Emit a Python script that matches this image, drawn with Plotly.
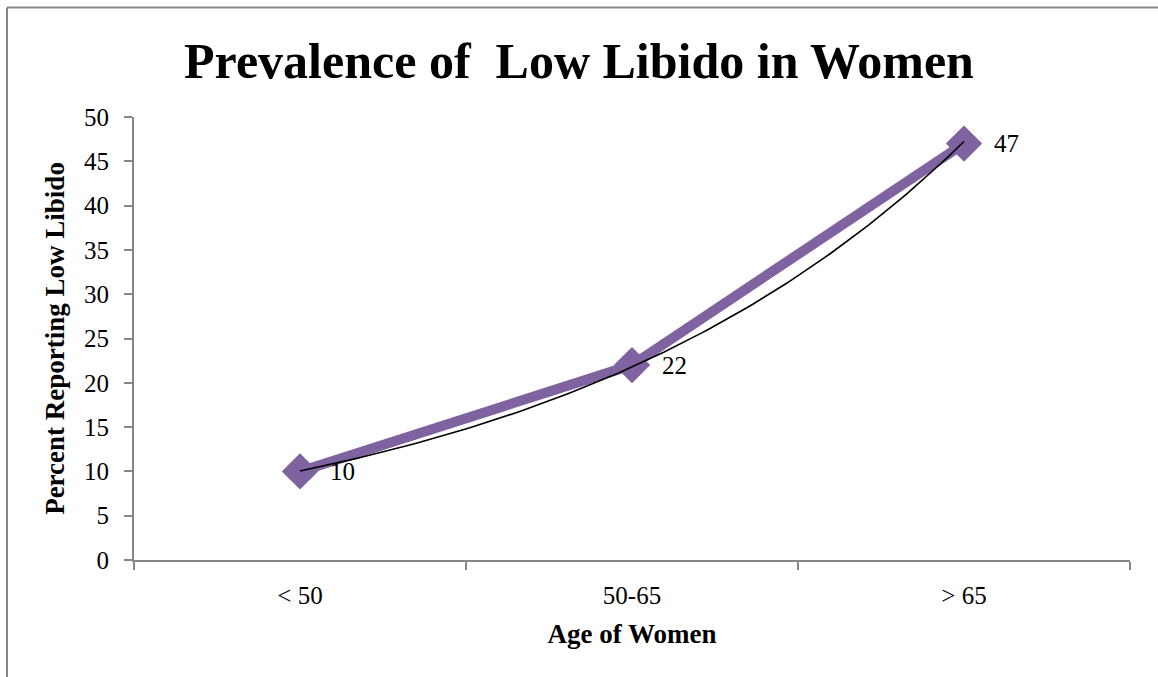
import numpy as np
import plotly.graph_objects as go

# Survey results
age_groups = ["< 50", "50-65", "> 65"]
pct_low_libido = [10, 22, 47]

title_text = "Prevalence of  Low Libido in Women"
x_title = "Age of Women"
y_title = "Percent Reporting Low Libido"

FONT = "Liberation Serif"
PURPLE = "#7f63a1"
AXIS_GRAY = "#878787"

x_pos = np.arange(len(age_groups))

# Exponential trendline (least squares on ln y, 1-based index like a spreadsheet)
idx = x_pos + 1
b, ln_a = np.polyfit(idx, np.log(pct_low_libido), 1)
fit_x = np.linspace(idx[0], idx[-1], 120)
fit_y = np.exp(ln_a + b * fit_x)

fig = go.Figure()

fig.add_trace(go.Scatter(
    x=x_pos, y=pct_low_libido, mode="lines+markers",
    line=dict(color=PURPLE, width=10),
    marker=dict(symbol="diamond", size=28, color=PURPLE),
    hoverinfo="skip", showlegend=False,
))

fig.add_trace(go.Scatter(
    x=fit_x - 1, y=fit_y, mode="lines",
    line=dict(color="black", width=1.6),
    hoverinfo="skip", showlegend=False,
))

# Value labels to the right of each point
for xv, yv in zip(x_pos, pct_low_libido):
    fig.add_annotation(
        x=xv, y=yv, text=str(yv), showarrow=False,
        xanchor="left", yanchor="middle", xshift=28,
        font=dict(family=FONT, size=25, color="black"),
    )

# Chart-area frame (top and left edges)
fig.add_shape(type="line", xref="paper", yref="paper",
              x0=-0.1275, x1=1.2, y0=1.2472, y1=1.2472,
              line=dict(color=AXIS_GRAY, width=2))
fig.add_shape(type="line", xref="paper", yref="paper",
              x0=-0.1275, x1=-0.1275, y0=-0.4, y1=1.2472,
              line=dict(color=AXIS_GRAY, width=2))

fig.update_layout(
    width=1158, height=677,
    margin=dict(l=134, r=28, t=117, b=117),
    paper_bgcolor="white", plot_bgcolor="white",
    font=dict(family=FONT, color="black"),
    title=dict(text=f"<b>{title_text}</b>", x=0.5, xref="container",
               xanchor="center", y=0.911, yanchor="middle",
               font=dict(family=FONT, size=50, color="black")),
    showlegend=False,
)

fig.update_xaxes(
    range=[-0.5, 2.5], tickmode="array", tickvals=list(x_pos), ticktext=age_groups,
    ticks="", showgrid=False, zeroline=False, ticklabelstandoff=12,
    showline=True, linecolor=AXIS_GRAY, linewidth=2,
    tickfont=dict(family=FONT, size=25, color="black"),
    minor=dict(tick0=-0.5, dtick=1, ticks="outside", ticklen=8,
               tickcolor=AXIS_GRAY, tickwidth=1.5, showgrid=False),
    title=dict(text=f"<b>{x_title}</b>", standoff=16,
               font=dict(family=FONT, size=27, color="black")),
)

fig.update_yaxes(
    range=[0, 50], tickmode="linear", tick0=0, dtick=5,
    ticks="outside", ticklen=8, tickcolor=AXIS_GRAY, tickwidth=1.5,
    showgrid=False, zeroline=False, ticklabelstandoff=10,
    showline=True, linecolor=AXIS_GRAY, linewidth=2,
    tickfont=dict(family=FONT, size=25, color="black"),
    title=dict(text=f"<b>{y_title}</b>", standoff=12,
               font=dict(family=FONT, size=27, color="black")),
)

fig.write_html("out.html")
